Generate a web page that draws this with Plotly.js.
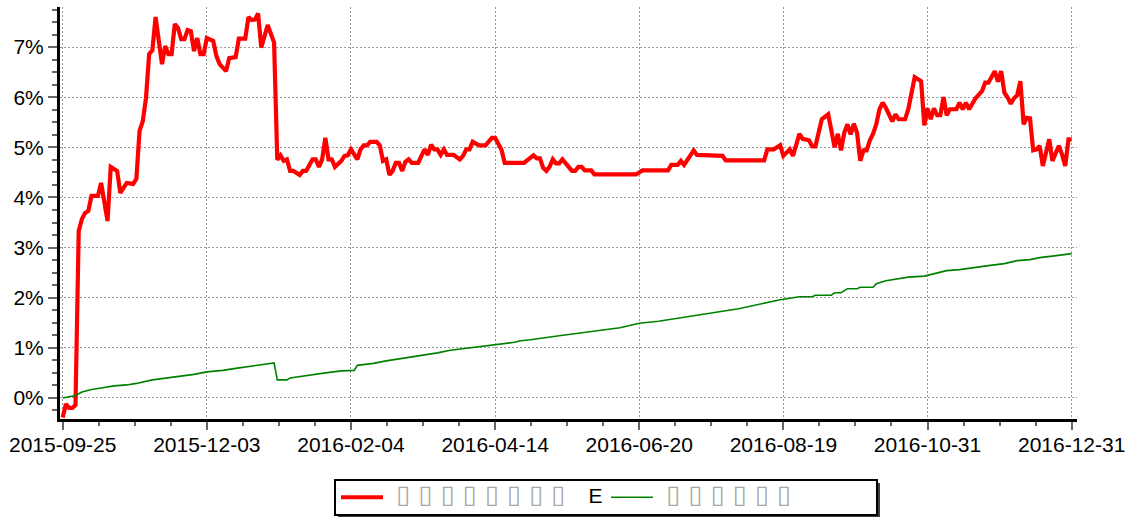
<!DOCTYPE html>
<html>
<head>
<meta charset="utf-8">
<script src="https://cdn.plot.ly/plotly-3.0.1.min.js"></script>
<style>
html,body{margin:0;padding:0;background:#fff;}
#chart{width:1131px;height:519px;}
</style>
</head>
<body>
<div id="chart"></div>
<script>
// Trading-day index of each tick label
var tickIndex = [0, 45, 90, 135, 180, 225, 270, 315];
var tickLabels = ["2015-09-25", "2015-12-03", "2016-02-04", "2016-04-14", "2016-06-20", "2016-08-19", "2016-10-31", "2016-12-31"];

// Series 1 (red): trading-day index and value in %
var strategyX = [0,1,2,3,4,5,6,7,8,9,11,12,14,15,17,18,20,22,23,24,25,26,27,28,29,31,32,33,34,35,36,37,38,39,40,41,42,43,44,45,47,48,49,51,52,54,55,57,58,59,60,61,62,64,66,67,68,69,70,71,72,74,75,76,78,79,80,81,82,83,84,85,87,88,89,90,92,93,94,95,96,98,99,100,101,102,103,104,105,106,107,108,109,111,112,113,114,115,116,117,118,119,120,122,124,125,126,127,128,130,132,134,135,137,138,144,145,147,148,149,150,151,152,153,154,155,156,157,159,160,161,162,163,165,166,179,181,189,190,192,193,194,195,197,198,206,207,219,220,222,224,225,227,228,230,231,233,234,235,236,237,239,241,242,243,244,245,246,247,248,249,250,251,252,253,254,255,256,257,259,260,261,263,264,265,266,268,269,270,271,272,273,274,275,276,277,279,280,281,282,283,285,287,288,289,290,291,292,293,294,295,296,297,298,299,300,301,302,303,304,305,306,308,309,311,312,313,314,315];
var strategyY = [-0.39,-0.12,-0.20,-0.20,-0.14,3.33,3.57,3.69,3.73,4.03,4.03,4.29,3.53,4.61,4.53,4.09,4.29,4.27,4.37,5.33,5.52,5.98,6.86,6.94,7.60,6.66,7.02,6.86,6.86,7.46,7.38,7.16,7.16,7.34,7.32,6.92,7.18,6.86,6.86,7.18,7.12,6.82,6.66,6.52,6.78,6.80,7.17,7.17,7.60,7.54,7.55,7.67,6.99,7.44,7.09,4.75,4.84,4.73,4.76,4.53,4.53,4.45,4.53,4.53,4.76,4.76,4.61,4.76,5.19,4.76,4.76,4.61,4.73,4.83,4.84,4.96,4.76,4.96,5.04,5.04,5.11,5.11,5.04,4.73,4.76,4.45,4.53,4.69,4.69,4.53,4.71,4.76,4.69,4.69,4.83,4.96,4.85,5.05,4.96,4.96,4.85,4.96,4.85,4.85,4.76,4.83,4.96,4.96,5.11,5.04,5.04,5.19,5.19,4.95,4.69,4.69,4.74,4.84,4.78,4.78,4.59,4.53,4.61,4.76,4.68,4.68,4.76,4.68,4.53,4.53,4.61,4.61,4.54,4.54,4.46,4.46,4.54,4.54,4.65,4.65,4.73,4.65,4.76,4.94,4.85,4.83,4.74,4.74,4.96,4.96,5.04,4.83,4.96,4.83,5.27,5.17,5.14,5.02,5.02,5.29,5.56,5.66,5.00,5.27,4.94,5.29,5.46,5.26,5.47,5.29,4.73,4.94,4.94,5.14,5.27,5.46,5.76,5.89,5.79,5.52,5.66,5.56,5.56,5.76,6.09,6.40,6.32,5.44,5.78,5.56,5.78,5.64,5.64,6.00,5.64,5.76,5.76,5.89,5.76,5.89,5.76,5.98,6.12,6.29,6.29,6.39,6.52,6.31,6.52,6.09,6.00,5.87,5.98,6.04,6.32,5.46,5.59,5.58,4.94,4.96,5.03,4.63,5.16,4.73,5.03,4.86,4.63,5.16,5.16];

// Series 2 (green): trading-day index and value in %
var benchX = [0,4,6,9,12,16,20,23,28,32,37,41,45,50,54,57,61,65,66,67,70,71,74,78,82,87,91,92,97,101,106,110,113,117,121,125,129,133,137,141,143,146,155,165,174,180,186,199,211,224,230,234,235,240,241,243,245,248,249,253,254,257,260,264,269,272,276,280,284,289,294,298,302,305,309,313,315];
var benchY = [0.00,0.05,0.12,0.17,0.20,0.24,0.26,0.29,0.36,0.39,0.44,0.47,0.52,0.55,0.59,0.62,0.65,0.69,0.70,0.36,0.36,0.40,0.43,0.47,0.50,0.54,0.55,0.65,0.69,0.74,0.79,0.82,0.85,0.90,0.95,0.98,1.02,1.05,1.08,1.11,1.14,1.16,1.24,1.32,1.40,1.49,1.53,1.66,1.78,1.96,2.02,2.02,2.05,2.05,2.10,2.10,2.18,2.18,2.21,2.21,2.28,2.34,2.37,2.41,2.43,2.48,2.54,2.56,2.60,2.64,2.68,2.74,2.76,2.80,2.83,2.86,2.88];

// Legend labels (original CJK text shows as empty boxes in the reference)
var boxChar = "\u25AF";
var BOXSTYLE = 'style="color:#a8a8a8;font-family:DejaVu Sans;font-size:25.5px"';
var TXTSTYLE = 'style="font-size:21px"';
function boxes(n){ var a = []; for (var i = 0; i < n; i++) a.push(boxChar); return " " + a.join(" "); }
var name1 = '<span ' + BOXSTYLE + '>' + boxes(8) + '</span><span ' + TXTSTYLE + '>    E</span>';
var name2 = '<span ' + BOXSTYLE + '>' + boxes(6) + '</span>';

var FONT = "Liberation Sans, Arial, sans-serif";

var traces = [
  {x: strategyX, y: strategyY, type: "scatter", mode: "lines", name: name1,
   line: {color: "#ff0000", width: 4.2}},
  {x: benchX, y: benchY, type: "scatter", mode: "lines", name: name2,
   line: {color: "#008000", width: 1.6}}
];

var L = 60, R = 1131 - 1077, T = 7, B = 100;
var plotW = 1131 - L - R, plotH = 519 - T - B;
function px2paperX(px){ return (px - L) / plotW; }
function py2paperY(py){ return (519 - B - py) / plotH; }

var layout = {
  width: 1131, height: 519,
  margin: {l: L, r: R, t: T, b: B, autoexpand: false},
  paper_bgcolor: "#ffffff", plot_bgcolor: "#ffffff",
  font: {family: FONT, size: 21, color: "#000000"},
  showlegend: true,
  xaxis: {
    range: [-0.84, 316.67],
    tickmode: "array", tickvals: tickIndex, ticktext: tickLabels,
    showline: true, linecolor: "#000000", linewidth: 3,
    ticks: "outside", ticklen: 8, tickwidth: 2, tickcolor: "#666666",
    ticklabelstandoff: -3,
    showgrid: true, gridcolor: "#999999", gridwidth: 1, griddash: "2px,2px",
    zeroline: false,
    tickfont: {family: FONT, size: 21, color: "#000000"},
    minor: {dtick: 11.25, tick0: 0, ticks: "outside", ticklen: 4, tickwidth: 2, tickcolor: "#666666", showgrid: false}
  },
  yaxis: {
    range: [-0.42, 7.80],
    tickmode: "linear", tick0: 0, dtick: 1, ticksuffix: "%",
    showline: true, linecolor: "#000000", linewidth: 3,
    ticks: "outside", ticklen: 9, tickwidth: 2, tickcolor: "#666666",
    showgrid: true, gridcolor: "#999999", gridwidth: 1, griddash: "2px,2px",
    zeroline: false,
    tickfont: {family: FONT, size: 21, color: "#000000"},
    minor: {dtick: 0.25, tick0: 0, ticks: "outside", ticklen: 5, tickwidth: 2, tickcolor: "#666666", showgrid: false}
  },
  legend: {
    orientation: "h",
    x: px2paperX(334), xanchor: "left",
    y: py2paperY(479), yanchor: "top",
    bgcolor: "#ffffff", bordercolor: "#000000", borderwidth: 2,
    itemwidth: 42, entrywidth: 213, entrywidthmode: "pixels",
    font: {family: FONT, size: 15, color: "#000000"}
  },
  shapes: [
    {type: "rect", xref: "paper", yref: "paper", layer: "above",
     x0: px2paperX(338), x1: px2paperX(880), y0: py2paperY(483), y1: py2paperY(517),
     fillcolor: "#404040", line: {width: 0}}
  ]
};

Plotly.newPlot("chart", traces, layout, {displayModeBar: false, staticPlot: true});
</script>
</body>
</html>
